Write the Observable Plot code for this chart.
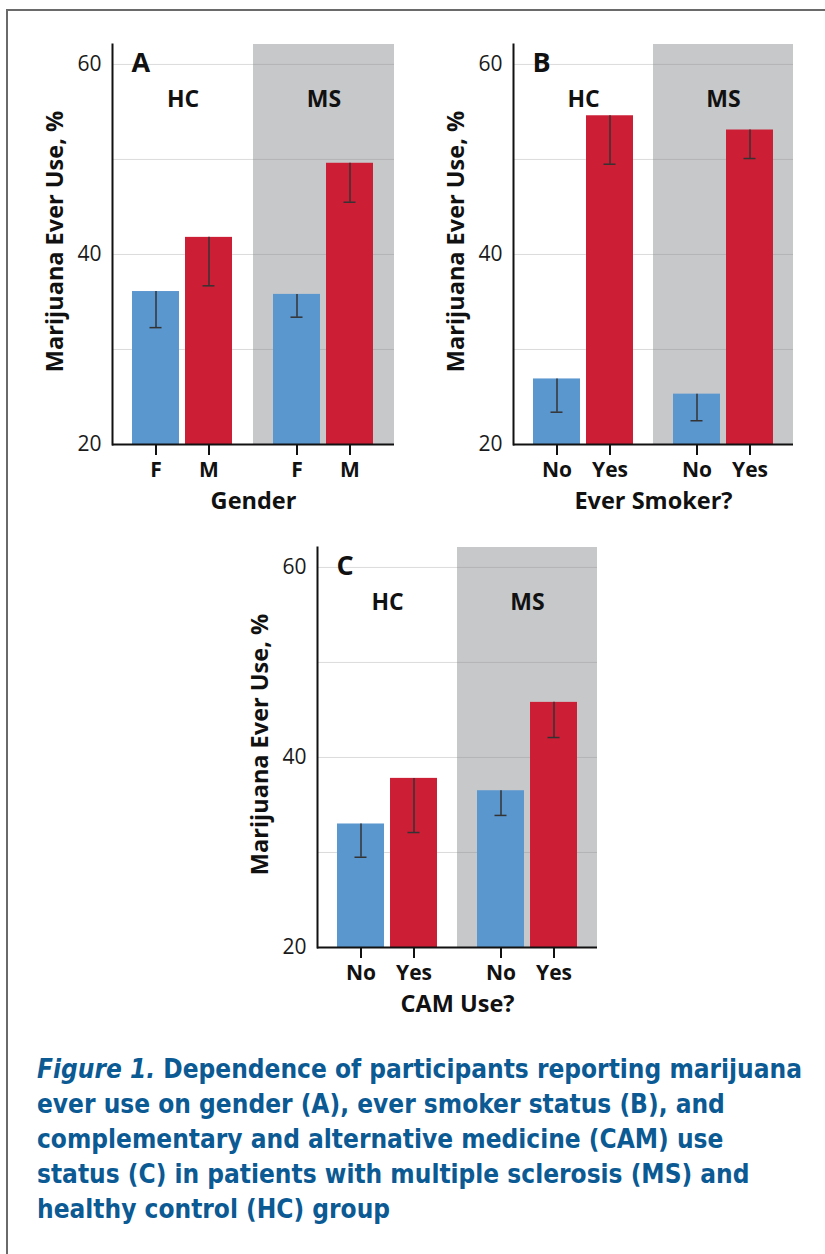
<!DOCTYPE html>
<html>
<head>
<meta charset="utf-8">
<script src="https://cdn.jsdelivr.net/npm/d3@7"></script>
<script src="https://cdn.jsdelivr.net/npm/@observablehq/plot@0.6"></script>
<style>
  html, body { margin: 0; padding: 0; background: #fff; }
  #page { position: relative; width: 825px; height: 1254px; overflow: hidden; background: #fff; }
  #border { position: absolute; left: 6px; top: 9px; width: 900px; height: 1400px;
            border-top: 2px solid #6a6a6a; border-left: 2px solid #6a6a6a; }
  .panel { position: absolute; }
  #caption { position: absolute; left: 37px; top: 1052px; width: 790px;
             font-family: "Liberation Sans Narrow", "DejaVu Sans Condensed", "Open Sans", sans-serif;
             font-weight: bold; font-size: 26px; line-height: 35px; color: #0b5a94; white-space: nowrap; }
  #caption i { font-style: italic; }
</style>
</head>
<body>
<div id="page">
  <div id="border"></div>
  <div class="panel" id="pA" style="left:0px; top:0px;"></div>
  <div class="panel" id="pB" style="left:410px; top:0px;"></div>
  <div class="panel" id="pC" style="left:214px; top:503px;"></div>
  <div id="caption"><i>Figure 1.</i> Dependence of participants reporting marijuana<br>ever use on gender (A), ever smoker status (B), and<br>complementary and alternative medicine (CAM) use<br>status (C) in patients with multiple sclerosis (MS) and<br>healthy control (HC) group</div>
</div>
<script>
// ---- data ----
const groups = ["HC", "HC", "MS", "MS"];

const catsA = ["F", "M", "F", "M"];
const valuesA = [36.1, 41.8, 35.8, 49.6];
const lowsA = [32.3, 36.7, 33.4, 45.5];

const catsB = ["No", "Yes", "No", "Yes"];
const valuesB = [26.9, 54.6, 25.3, 53.1];
const lowsB = [23.4, 49.5, 22.5, 50.1];

const catsC = ["No", "Yes", "No", "Yes"];
const valuesC = [33.0, 37.8, 36.5, 45.8];
const lowsC = [29.5, 32.1, 33.9, 42.1];

const yTicks = [20, 40, 60];
const yGrid = [30, 40, 50, 60];
const yLabel = "Marijuana Ever Use, %";

// ---- styling ----
const BLUE = "#5b97cf";
const RED = "#cc1f36";
const GRAY = "#c7c8ca";
const FONT = "'Open Sans', 'Noto Sans', sans-serif";

function panel(letter, cats, values, lows, xLabel, marginLeft, marginRight) {
  const data = cats.map((c, i) => ({group: groups[i], cat: c, value: values[i], low: lows[i]}));
  const catDomain = Array.from(new Set(cats));
  return Plot.plot({
    width: 410,
    height: 520,
    marginTop: 44,
    marginBottom: 76,
    marginLeft,
    marginRight,
    style: {fontFamily: FONT, color: "#1a1a1a", background: "transparent"},
    fx: {domain: ["HC", "MS"], padding: 0, axis: null},
    x: {domain: catDomain, paddingInner: 0.111, paddingOuter: 0.37, axis: null},
    y: {domain: [20, 62.1], axis: null},
    color: {domain: catDomain, range: [BLUE, RED]},
    marks: [
      Plot.rect([{group: "MS"}], {fx: "group", fill: GRAY}),
      Plot.gridY(yGrid, {stroke: "#888", strokeOpacity: 0.3, strokeWidth: 1}),
      Plot.barY(data, {fx: "group", x: "cat", y: "value", fill: "cat", clip: true}),
      Plot.ruleX(data, {fx: "group", x: "cat", y1: "low", y2: "value", stroke: "#333", strokeWidth: 1.5}),
      Plot.tickY(data, {fx: "group", x: "cat", y: "low", stroke: "#333", strokeWidth: 1.5, insetLeft: 17.5, insetRight: 17.5}),
      Plot.ruleY([20], {stroke: "#111", strokeWidth: 2}),
      Plot.frame({anchor: "left", facetAnchor: "left", stroke: "#111", strokeWidth: 2}),
      Plot.axisY(yTicks, {tickSize: 0, tickPadding: 11, fontSize: 21, label: null, facetAnchor: "left", fill: "#1a1a1a"}),
      Plot.axisX({tickSize: 11, tickPadding: 7, fontSize: 21, fontWeight: "bold", label: null, stroke: "#111", strokeWidth: 2, fill: "#111"}),
      Plot.text([{group: "HC", t: letter}], {fx: "group", text: "t", frameAnchor: "top-left", textAnchor: "start", lineAnchor: "middle", dx: 19, dy: 19, fontSize: 27, fontWeight: "bold", fill: "#111"}),
      Plot.text(["HC", "MS"], {fx: d => d, text: d => d, frameAnchor: "top", lineAnchor: "middle", dy: 55, fontSize: 23, fontWeight: "bold", fill: "#111"}),
      Plot.text([yLabel], {facet: "super", frameAnchor: "left", text: d => d, rotate: -90, textAnchor: "middle", lineAnchor: "middle", dx: -57, dy: -3, fontSize: 23.5, fontWeight: "bold", fill: "#111"}),
      Plot.text([xLabel], {facet: "super", frameAnchor: "bottom", text: d => d, lineAnchor: "middle", dy: 57, fontSize: 23.5, fontWeight: "bold", fill: "#111"})
    ]
  });
}

document.getElementById("pA").append(panel("A", catsA, valuesA, lowsA, "Gender", 112, 16));
document.getElementById("pB").append(panel("B", catsB, valuesB, lowsB, "Ever Smoker?", 102, 27));
document.getElementById("pC").append(panel("C", catsC, valuesC, lowsC, "CAM Use?", 102, 27));
</script>
</body>
</html>
